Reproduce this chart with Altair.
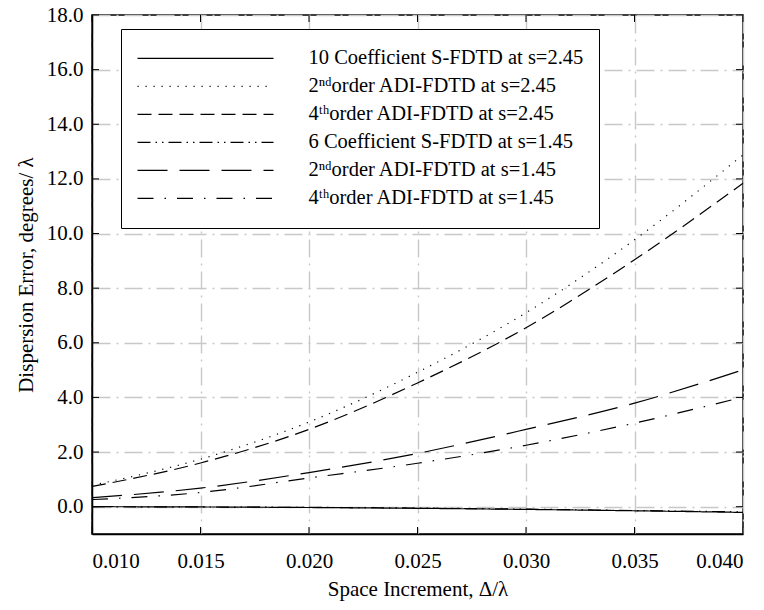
import altair as alt
import pandas as pd

# ---- data ----
x_vals = [0.010, 0.015, 0.020, 0.025, 0.030, 0.035, 0.040]
series_names = [
    "10 Coefficient S-FDTD at s=2.45",
    "2ⁿᵈorder ADI-FDTD at s=2.45",
    "4ᵗʰorder ADI-FDTD at s=2.45",
    "6 Coefficient S-FDTD at s=1.45",
    "2ⁿᵈorder ADI-FDTD at s=1.45",
    "4ᵗʰorder ADI-FDTD at s=1.45",
]
s_10coef_245 = [0.00, -0.01, -0.03, -0.06, -0.10, -0.15, -0.21]
s_2nd_245 = [0.78, 1.74, 3.10, 4.92, 7.10, 9.77, 12.88]
s_4th_245 = [0.74, 1.60, 2.83, 4.53, 6.55, 9.04, 11.84]
s_6coef_145 = [0.00, -0.01, -0.025, -0.05, -0.09, -0.14, -0.19]
s_2nd_145 = [0.33, 0.68, 1.25, 1.95, 2.83, 3.79, 5.01]
s_4th_145 = [0.26, 0.52, 1.05, 1.59, 2.25, 3.06, 4.01]

x_ticks = [0.010, 0.015, 0.020, 0.025, 0.030, 0.035, 0.040]
y_ticks = [0, 2, 4, 6, 8, 10, 12, 14, 16, 18]

dash_patterns = [
    [1, 0],
    [1.2, 6.8],
    [14, 7],
    [13, 5, 1.5, 5, 1.5, 5],
    [30, 12],
    [16, 11, 1.5, 11],
]

all_series = [s_10coef_245, s_2nd_245, s_4th_245, s_6coef_145, s_2nd_145, s_4th_145]
rows = []
for name, vals in zip(series_names, all_series):
    for xv, yv in zip(x_vals, vals):
        rows.append({"x": xv, "y": yv, "series": name})
df = pd.DataFrame(rows)

W, H = 651, 519
FONT = "Liberation Serif"
X_TITLE = "Space Increment,  Δ/λ"
Y_TITLE = "Dispersion Error, degrees/ λ"

xscale = alt.Scale(domain=[0.010, 0.040], nice=False, zero=False)
yscale = alt.Scale(domain=[-1, 18], nice=False, zero=False)

xaxis = alt.Axis(values=x_ticks, format=".3f", title=X_TITLE, grid=True,
                 ticks=False, labelPadding=16, titlePadding=7,
                 labelFont=FONT, titleFont=FONT, labelFontSize=21, titleFontSize=21)
yaxis = alt.Axis(values=y_ticks, format=".1f", title=Y_TITLE, grid=True,
                 ticks=False, labelPadding=9, titlePadding=10,
                 labelFont=FONT, titleFont=FONT, labelFontSize=21, titleFontSize=21)

lines = alt.Chart(df).mark_line(color="black", strokeWidth=1.2, interpolate="monotone").encode(
    x=alt.X("x:Q", scale=xscale, axis=xaxis),
    y=alt.Y("y:Q", scale=yscale, axis=yaxis),
    strokeDash=alt.StrokeDash(
        "series:N",
        scale=alt.Scale(domain=series_names, range=dash_patterns),
        legend=alt.Legend(
            title=None, orient="none", legendX=29, legendY=14,
            symbolType="stroke", symbolSize=136 * 136, symbolStrokeWidth=1.2,
            symbolStrokeColor="black", clipHeight=27.6, rowPadding=0,
            labelFont=FONT, labelFontSize=20.5, labelColor="black", labelOffset=34,
            labelLimit=600, padding=15.5, strokeColor="black", fillColor="white",
            symbolOffset=0,
        ),
    ),
    detail="series:N",
)

xt = pd.DataFrame({"xt": x_ticks})
yt = pd.DataFrame({"yt": y_ticks})

tick_bottom = alt.Chart(xt).mark_rule(color="black", strokeWidth=1).encode(
    x=alt.X("xt:Q", scale=xscale, title=X_TITLE), y=alt.value(H), y2=alt.value(H - 7))
tick_top = alt.Chart(xt).mark_rule(color="black", strokeWidth=1).encode(
    x=alt.X("xt:Q", scale=xscale, title=X_TITLE), y=alt.value(0), y2=alt.value(7))
tick_left = alt.Chart(yt).mark_rule(color="black", strokeWidth=1).encode(
    y=alt.Y("yt:Q", scale=yscale, title=Y_TITLE), x=alt.value(0), x2=alt.value(7))
tick_right = alt.Chart(yt).mark_rule(color="black", strokeWidth=1).encode(
    y=alt.Y("yt:Q", scale=yscale, title=Y_TITLE), x=alt.value(W), x2=alt.value(W - 7))

chart = alt.layer(lines, tick_bottom, tick_top, tick_left, tick_right).properties(
    width=W, height=H,
    autosize=alt.AutoSizeParams(type="none"),
    padding={"left": 84, "top": 7, "right": 13, "bottom": 68},
    background="white",
).configure_view(
    stroke="black", strokeWidth=1.5
).configure_axis(
    labelFont=FONT, titleFont=FONT, labelFontSize=21, titleFontSize=21,
    labelColor="black", titleColor="black", titleFontWeight="normal",
    domainColor="black", domainWidth=1.5,
    gridColor="#c8c8c8", gridWidth=1.4, gridDash=[18, 6, 2, 6],
)

chart.save("out.html", embed_options={"renderer": "svg", "actions": False})
